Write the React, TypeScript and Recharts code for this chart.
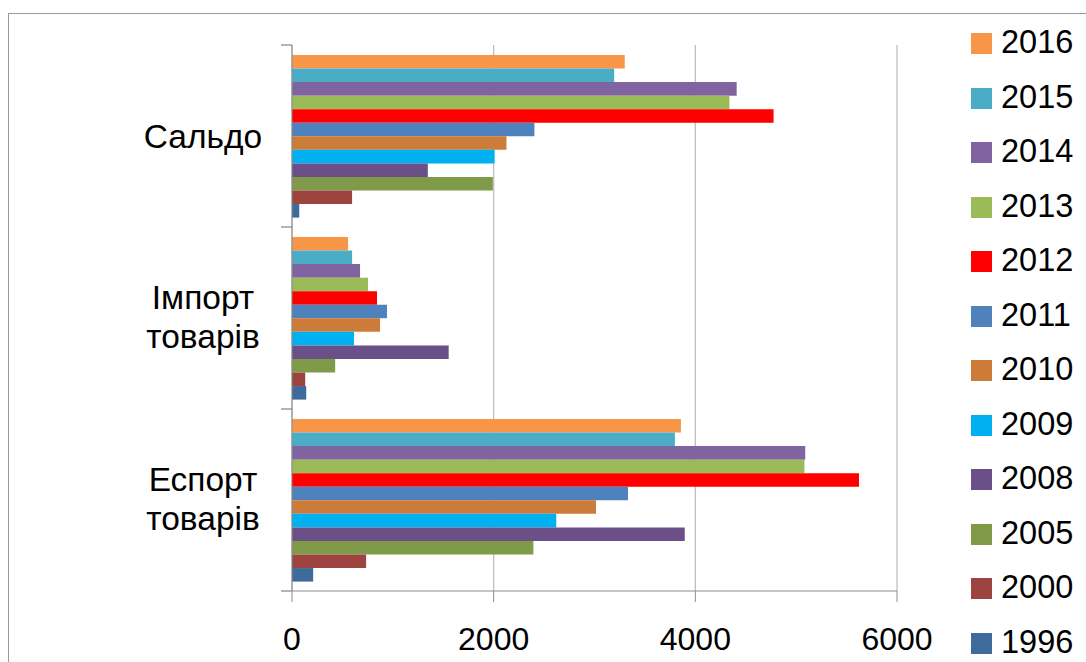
import React from 'react';
import { BarChart, Bar, XAxis, YAxis, CartesianGrid, Legend } from 'recharts';

const categories = ['Сальдо', 'Імпорт товарів', 'Еспорт товарів'];
const years = ['2016', '2015', '2014', '2013', '2012', '2011', '2010', '2009', '2008', '2005', '2000', '1996'];
const colors = ['#F79646', '#4BACC6', '#8064A2', '#9BBB59', '#FF0000', '#4F81BD', '#CC7B38', '#00B0F0', '#6A5086', '#7F9A48', '#9D4340', '#3F6A9C'];
const saldo = [3300, 3195, 4410, 4338, 4776, 2404, 2127, 2009, 1347, 1992, 596, 72];
const importValues = [556, 596, 675, 754, 843, 942, 873, 615, 1554, 428, 131, 141];
const exportValues = [3857, 3797, 5090, 5082, 5623, 3332, 3015, 2621, 3895, 2394, 735, 210];
const xTicks = [0, 2000, 4000, 6000];

const seriesByCategory = [saldo, importValues, exportValues];
const data = categories.map((c, ci) => {
  const row: Record<string, any> = { category: c };
  years.forEach((y, yi) => {
    row['y' + y] = seriesByCategory[ci][yi];
  });
  return row;
});

const FONT = '"Liberation Sans", Arial, sans-serif';
const PLOT_TOP = 45;
const PLOT_BOTTOM = 591;
const HALF_BAND = (PLOT_BOTTOM - PLOT_TOP) / categories.length / 2;

const CategoryTick = (props: any) => {
  const { x, y, payload } = props;
  const lines = String(payload.value).split(' ');
  const idx = categories.indexOf(payload.value);
  const cx = x - 89;
  const baselines = lines.length === 1 ? [y + 12] : [y - 9, y + 30];
  return (
    <g>
      <line x1={x - 11} x2={x} y1={y - HALF_BAND} y2={y - HALF_BAND} stroke="#8c8c8c" strokeWidth={1.3} />
      {idx === categories.length - 1 && (
        <line x1={x - 11} x2={x} y1={y + HALF_BAND} y2={y + HALF_BAND} stroke="#8c8c8c" strokeWidth={1.3} />
      )}
      {lines.map((l, i) => (
        <text key={i} x={cx} y={baselines[i]} textAnchor="middle" fontSize={33.5} fontFamily={FONT} fill="#000">
          {l}
        </text>
      ))}
    </g>
  );
};

const renderLegend = () => (
  <div style={{ fontFamily: FONT, fontSize: 32.5, color: '#000', position: 'relative' }}>
    {years.map((y, i) => (
      <div key={y} style={{ position: 'absolute', left: 0, top: i * 54.5, height: 54.5, display: 'flex', alignItems: 'center' }}>
        <div style={{ width: 21, height: 21, background: colors[i], marginLeft: 11, marginTop: 3 }} />
        <span style={{ marginLeft: 9, lineHeight: 1 }}>{y}</span>
      </div>
    ))}
  </div>
);

export default function App() {
  return (
    <div style={{ position: 'absolute', left: 0, top: 0, width: 1086, height: 662, overflow: 'hidden', background: '#fff' }}>
      <div style={{ position: 'absolute', left: 8, top: 13, width: 2000, height: 2000, border: '1.3px solid #9a9a9a' }} />
      <div style={{ position: 'absolute', left: 0, top: 0 }}>
        <BarChart
          width={1086}
          height={662}
          data={data}
          layout="vertical"
          margin={{ top: PLOT_TOP, right: 189, bottom: 0, left: 0 }}
          barGap={0}
          barSize={13.55}
        >
          <CartesianGrid horizontal={false} stroke="#BFBFBF" strokeWidth={1.3} />
          <XAxis
            type="number"
            domain={[0, 6000]}
            ticks={xTicks}
            interval={0}
            height={71}
            tickSize={11}
            tickMargin={25}
            stroke="#8c8c8c"
            tick={{ fontSize: 32, fill: '#000', fontFamily: FONT }}
          />
          <YAxis
            type="category"
            dataKey="category"
            width={292}
            tickSize={0}
            tickMargin={0}
            tickLine={false}
            interval={0}
            stroke="#8c8c8c"
            tick={(p: any) => <CategoryTick {...p} />}
          />
          <Legend
            layout="vertical"
            align="center"
            verticalAlign="middle"
            wrapperStyle={{ left: 960, top: 15, width: 126, height: 660 }}
            content={renderLegend}
          />
          {years.map((y, i) => (
            <Bar key={y} dataKey={'y' + y} name={y} fill={colors[i]} isAnimationActive={false} />
          ))}
        </BarChart>
      </div>
    </div>
  );
}
